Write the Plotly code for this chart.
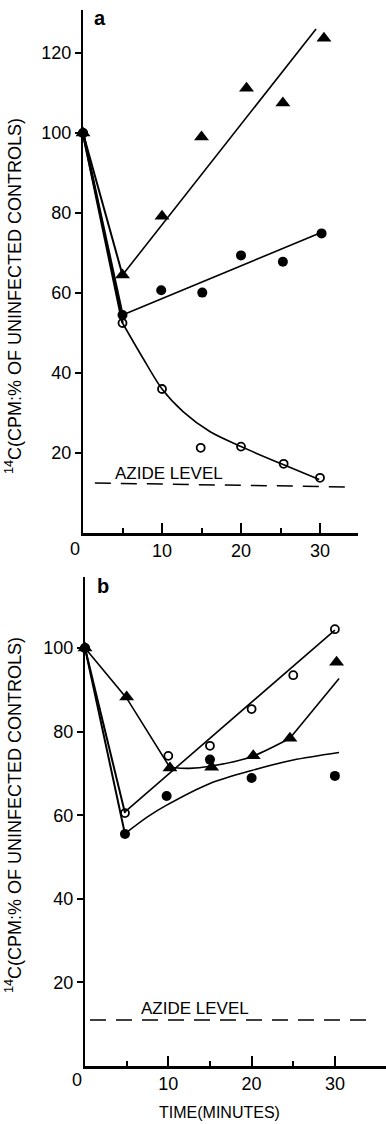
import plotly.graph_objects as go

W, H = 386, 1124

# ---------------- Panel a data ----------------
a_tri_t = [0, 5, 10, 15, 20.7, 25.3, 30.5]
a_tri_v = [100, 64.5, 79.2, 99, 111.2, 107.5, 123.7]
a_fil_t = [0, 5, 9.9, 15.1, 20, 25.3, 30.2]
a_fil_v = [100, 54.5, 60.7, 60.1, 69.4, 67.8, 74.9]
a_opn_t = [0, 5, 10, 14.9, 20, 25.4, 30]
a_opn_v = [100, 52.5, 36, 21.3, 21.6, 17.3, 13.8]

# fitted lines (panel a)
a_tri_fit_t = [5, 29.5]
a_tri_fit_v = [64.5, 126]
a_fil_fit_t = [5, 30]
a_fil_fit_v = [54.5, 75]
a_opn_fit_t = [5, 7.5, 10, 12.7, 16.1, 20, 25.1, 29.9]
a_opn_fit_v = [52.5, 44, 36, 30.3, 25.3, 21.6, 17.3, 13.4]
a_azide_t = [1.5, 33.8]
a_azide_v = [12.5, 11.5]

# ---------------- Panel b data ----------------
b_tri_t = [0, 5, 10.2, 15.2, 20.2, 24.6, 30.2]
b_tri_v = [100, 88.3, 71.3, 71.5, 74.2, 78.4, 96.6]
b_fil_t = [0, 4.8, 9.8, 15, 20, 30]
b_fil_v = [100, 55.5, 64.6, 73.3, 68.9, 69.4]
b_opn_t = [0, 4.8, 10, 15, 20, 25, 30]
b_opn_v = [100, 60.5, 74.2, 76.6, 85.4, 93.5, 104.5]

b_tri_seg_t = [0, 5, 10.2]
b_tri_seg_v = [100, 88, 71.4]
b_tri_fit_t = [10.2, 12.5, 15, 20, 24.6]
b_tri_fit_v = [71.4, 71.2, 71.7, 74, 78.4]
b_tri_end_t = [24.6, 30.5]
b_tri_end_v = [78.4, 92.7]
b_fil_fit_t = [4.8, 7.5, 9.8, 15, 20, 25, 30.5]
b_fil_fit_v = [55.6, 59.6, 62.4, 67.6, 70.7, 73.2, 75]
b_opn_fit_t = [4.8, 30]
b_opn_fit_v = [60.8, 104.3]
b_azide_t = [0.6, 34.3]
b_azide_v = [11, 11]

y_ticks_a = [20, 40, 60, 80, 100, 120]
y_ticks_b = [20, 40, 60, 80, 100]
x_ticks = [10, 20, 30]
x_minor = [5, 15, 25]

# ---------------- layout geometry (pixels) ----------------
def px(x):
    return x / W

def py(y):
    return 1 - y / H

fig = go.Figure()

LW = 1.6

def add_panel(xa, ya, tri_t, tri_v, fil_t, fil_v, opn_t, opn_v):
    fig.add_trace(go.Scatter(x=fil_t, y=fil_v, mode="markers", xaxis=xa, yaxis=ya,
                             marker=dict(symbol="circle", size=10, color="black"),
                             showlegend=False, cliponaxis=False))
    fig.add_trace(go.Scatter(x=opn_t, y=opn_v, mode="markers", xaxis=xa, yaxis=ya,
                             marker=dict(symbol="circle-open", size=8, color="black",
                                         line=dict(width=1.8, color="black")),
                             showlegend=False, cliponaxis=False))
    fig.add_trace(go.Scatter(x=tri_t, y=tri_v, mode="markers", xaxis=xa, yaxis=ya,
                             marker=dict(symbol="triangle-up", size=13, color="black"),
                             showlegend=False, cliponaxis=False))

def add_line(xa, ya, t, v, shape="linear", width=LW, dash=None, smoothing=1.0):
    line = dict(color="black", width=width, shape=shape, dash=dash)
    if shape == "spline":
        line["smoothing"] = smoothing
    fig.add_trace(go.Scatter(x=t, y=v, mode="lines", xaxis=xa, yaxis=ya, line=line,
                             showlegend=False, hoverinfo="skip", cliponaxis=False))

# panel a lines
add_line("x", "y", [a_tri_t[0], a_tri_t[1]], [a_tri_v[0], a_tri_v[1]], width=2)
add_line("x", "y", [a_fil_t[0], a_fil_t[1]], [a_fil_v[0], a_fil_v[1]], width=2.5)
add_line("x", "y", [a_opn_t[0], a_opn_t[1]], [a_opn_v[0], a_opn_v[1]], width=2.5)
add_line("x", "y", a_tri_fit_t, a_tri_fit_v)
add_line("x", "y", a_fil_fit_t, a_fil_fit_v)
add_line("x", "y", a_opn_fit_t, a_opn_fit_v, shape="spline", smoothing=0.8)
add_line("x", "y", a_azide_t, a_azide_v, dash="16px,10px", width=1.5)
add_panel("x", "y", a_tri_t, a_tri_v, a_fil_t, a_fil_v, a_opn_t, a_opn_v)

# panel b lines
add_line("x2", "y2", b_tri_seg_t, b_tri_seg_v)
add_line("x2", "y2", [b_fil_t[0], b_fil_t[1]], [b_fil_v[0], b_fil_v[1]], width=2)
add_line("x2", "y2", [b_opn_t[0], b_opn_t[1]], [b_opn_v[0], b_opn_v[1]], width=2)
add_line("x2", "y2", b_tri_fit_t, b_tri_fit_v, shape="spline", smoothing=0.8)
add_line("x2", "y2", b_tri_end_t, b_tri_end_v)
add_line("x2", "y2", b_fil_fit_t, b_fil_fit_v, shape="spline", smoothing=0.8)
add_line("x2", "y2", b_opn_fit_t, b_opn_fit_v)
add_line("x2", "y2", b_azide_t, b_azide_v, dash="16px,10px", width=1.5)
add_panel("x2", "y2", b_tri_t, b_tri_v, b_fil_t, b_fil_v, b_opn_t, b_opn_v)

FONT = "Liberation Sans, Arial, sans-serif"
tick_font = dict(family=FONT, size=18, color="black")

def xaxis_cfg(domain, rng, anchor):
    return dict(domain=domain, range=rng, anchor=anchor, showline=True, linewidth=2.5,
                linecolor="black", showgrid=False, zeroline=False, tickmode="array",
                tickvals=x_ticks, ticks="inside", ticklen=10, tickwidth=2, tickcolor="black",
                tickfont=tick_font, automargin=False, fixedrange=True,
                minor=dict(tickmode="array", tickvals=x_minor, ticks="inside", ticklen=5,
                           tickwidth=2, tickcolor="black", showgrid=False))

def yaxis_cfg(domain, rng, ticks, anchor):
    return dict(domain=domain, range=rng, anchor=anchor, showline=True, linewidth=2.2,
                linecolor="black", showgrid=False, zeroline=False, tickmode="array",
                tickvals=ticks, ticks="outside", ticklen=6, tickwidth=2, tickcolor="black",
                tickfont=tick_font, automargin=False, fixedrange=True)

# panel a: x=0 at px 83, 7.9 px/min ; y=0 at py 533, 4 px/unit, top at py 10
ax0, ax_ppm = 83, 7.9
a_right = 358
# panel b: x=0 at px 85, 8.33 px/min ; y=0 at py 1066, 4.18 px/unit, top at py 577
bx0, bx_ppm = 85, 8.33
b_right = 386

fig.update_layout(
    xaxis=xaxis_cfg([px(ax0), px(a_right)], [0, (a_right - ax0) / ax_ppm], "y"),
    yaxis=yaxis_cfg([py(533), py(10)], [0, (533 - 10) / 4.0], y_ticks_a, "x"),
    xaxis2=xaxis_cfg([px(bx0), px(b_right)], [0, (b_right - bx0) / bx_ppm], "y2"),
    yaxis2=yaxis_cfg([py(1066), py(577)], [0, (1066 - 577) / 4.18], y_ticks_b, "x2"),
)

title_font = dict(family=FONT, size=18, color="black")
azide_font = dict(family=FONT, size=17, color="black")
annotations = [
    dict(text="<b>a</b>", x=px(100), y=py(18), font=dict(family=FONT, size=20, color="black")),
    dict(text="<b>b</b>", x=px(103), y=py(586), font=dict(family=FONT, size=20, color="black")),
    dict(text="0", x=px(75), y=py(549), font=tick_font),
    dict(text="0", x=px(77), y=py(1080), font=tick_font),
    dict(text="AZIDE LEVEL", x=px(169), y=py(473), font=azide_font),
    dict(text="AZIDE LEVEL", x=px(195), y=py(1008), font=azide_font),
    dict(text="<sup>14</sup>C(CPM:% OF UNINFECTED CONTROLS)", x=px(13), y=py(296), textangle=-90,
         font=title_font),
    dict(text="<sup>14</sup>C(CPM:% OF UNINFECTED CONTROLS)", x=px(13), y=py(815), textangle=-90,
         font=title_font),
    dict(text="TIME(MINUTES)", x=px(219), y=py(1112), font=dict(family=FONT, size=16, color="black")),
]
for a in annotations:
    a.update(xref="paper", yref="paper", showarrow=False, xanchor="center", yanchor="middle")

fig.update_layout(
    width=W, height=H, autosize=False,
    margin=dict(l=0, r=0, t=0, b=0, pad=0),
    paper_bgcolor="white", plot_bgcolor="white",
    annotations=annotations, showlegend=False,
)

fig.write_html("out.html", config={"displayModeBar": False})
